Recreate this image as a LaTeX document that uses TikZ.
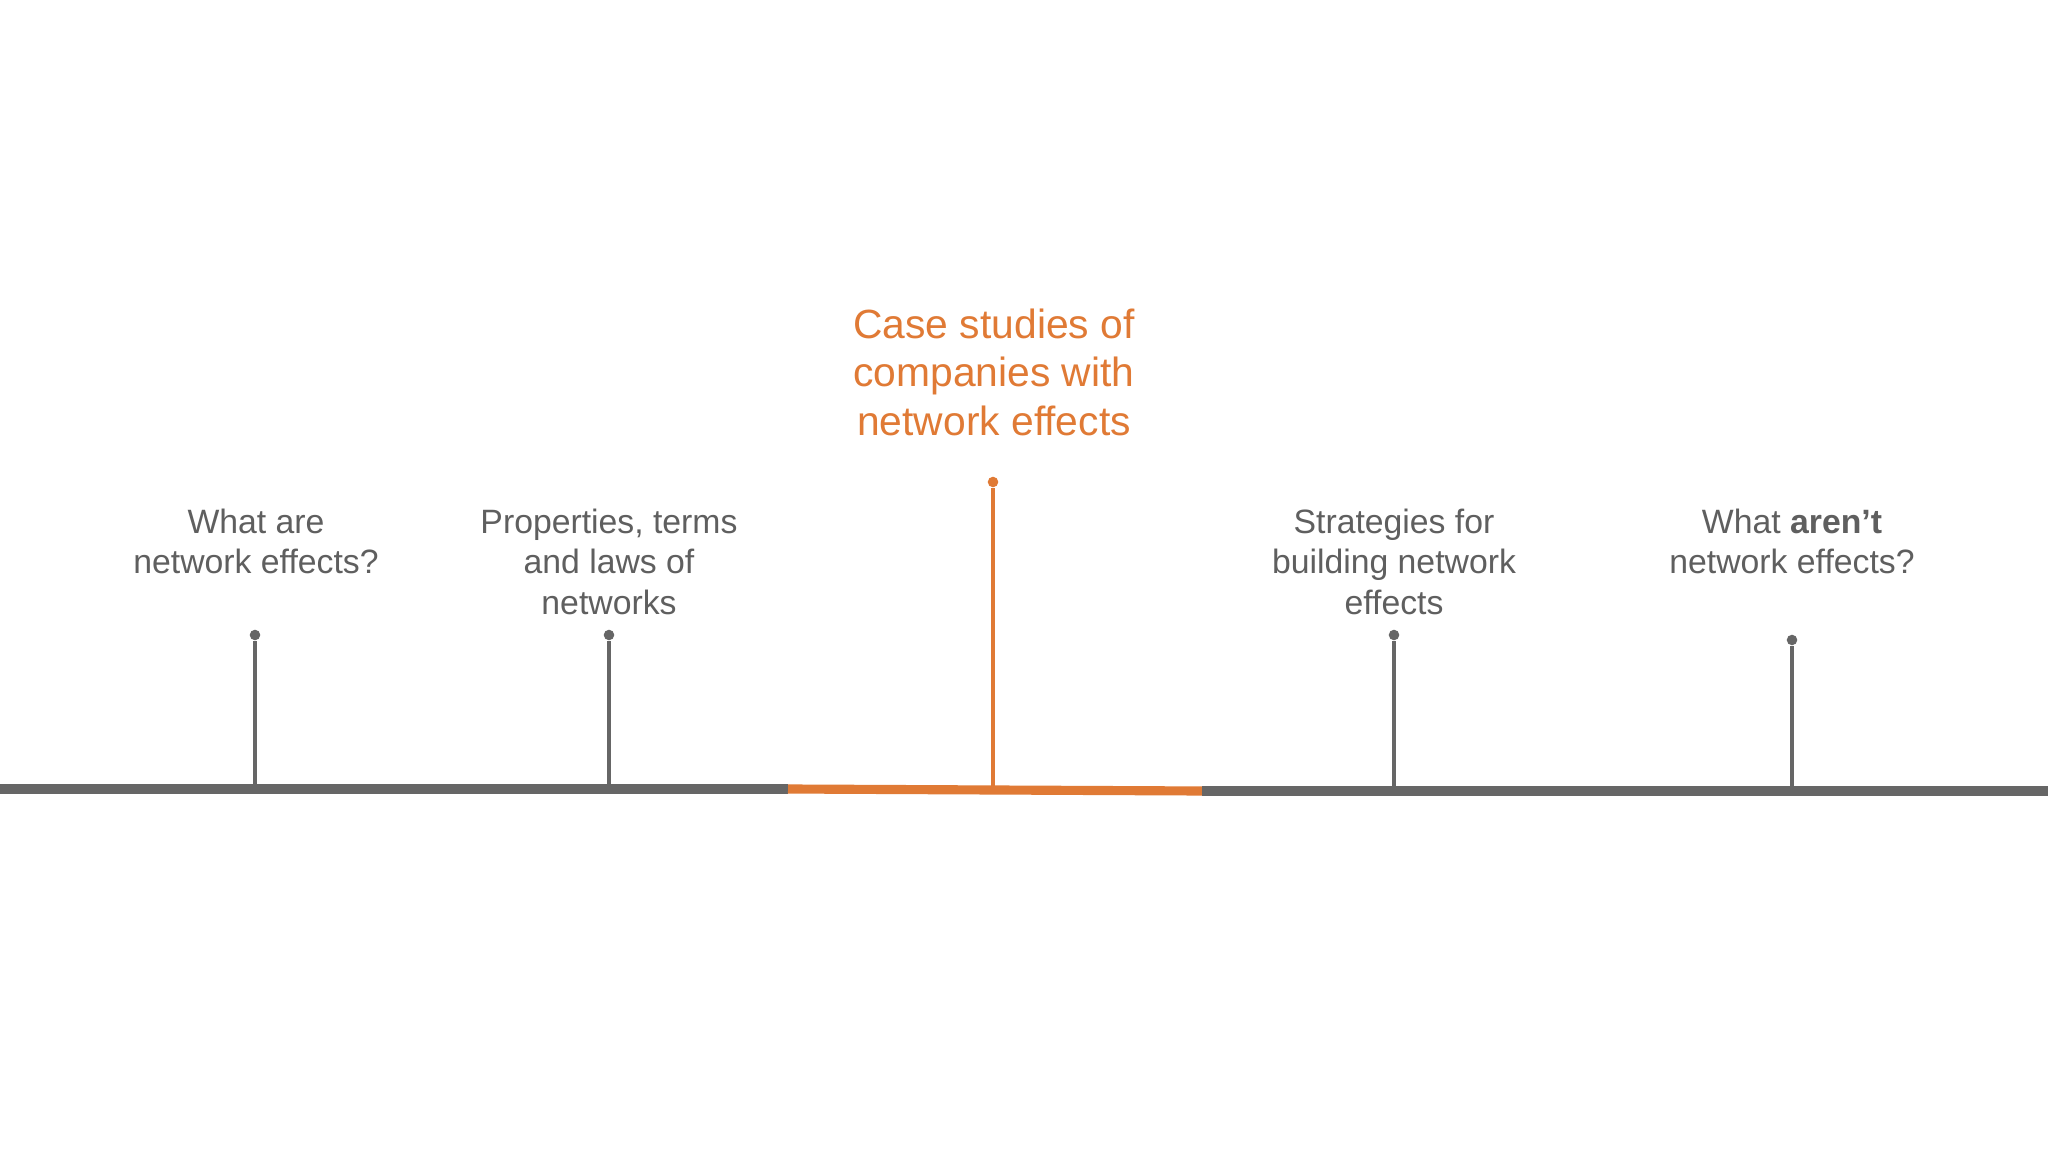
\documentclass[tikz,border=0pt]{standalone}
\usepackage{fontspec}
\setmainfont{Liberation Sans}
\definecolor{tg}{HTML}{666666}
\definecolor{tt}{HTML}{5F5F5F}
\definecolor{to}{HTML}{E07A35}
\begin{document}
\begin{tikzpicture}[x=0.01cm,y=-0.01cm,
  lbl/.style={align=center,text=tt,font=\fontsize{9.6pt}{11.6pt}\selectfont,inner sep=0},
  stem/.style={line width=1.1pt,color=tg},
  dotc/.style={circle,fill=tg,inner sep=0,minimum size=3pt}]
\useasboundingbox (0,0) rectangle (2048,1152);
\fill[white] (0,0) rectangle (2048,1152);
% timeline
\coordinate (l0) at (0,789); \coordinate (l1) at (788,789);
\coordinate (o1) at (1202,791); \coordinate (r1) at (2048,791);
\draw[line width=2.6pt,tg] (l0) -- (l1);
\draw[line width=2.6pt,to] (l1) -- (o1);
\draw[line width=2.6pt,tg] (o1) -- (r1);
% stems
\node[dotc] (d1) at (255,635) {}; \coordinate (b1) at (255,787);
\node[dotc] (d2) at (609,635) {}; \coordinate (b2) at (609,787);
\node[dotc,fill=to] (d3) at (993,482) {}; \coordinate (b3) at (993,788);
\node[dotc] (d4) at (1394,635) {}; \coordinate (b4) at (1394,789);
\node[dotc] (d5) at (1792,640) {}; \coordinate (b5) at (1792,789);
\draw[stem] (d1) -- (b1);
\draw[stem] (d2) -- (b2);
\draw[stem,color=to] (d3) -- (b3);
\draw[stem] (d4) -- (b4);
\draw[stem] (d5) -- (b5);
% labels
\node[lbl,anchor=north] (t1) at (256,508) {What are\\network effects?};
\node[lbl,anchor=north] (t2) at (609,508) {Properties, terms\\and laws of\\networks};
\node[lbl,anchor=north,text=to,font=\fontsize{11.6pt}{13.8pt}\selectfont] (t3) at (994,308) {Case studies of\\companies with\\network effects};
\node[lbl,anchor=north] (t4) at (1394,508) {Strategies for\\building network\\effects};
\node[lbl,anchor=north] (t5) at (1792,508) {What \textbf{aren’t}\\network effects?};
\end{tikzpicture}
\end{document}
